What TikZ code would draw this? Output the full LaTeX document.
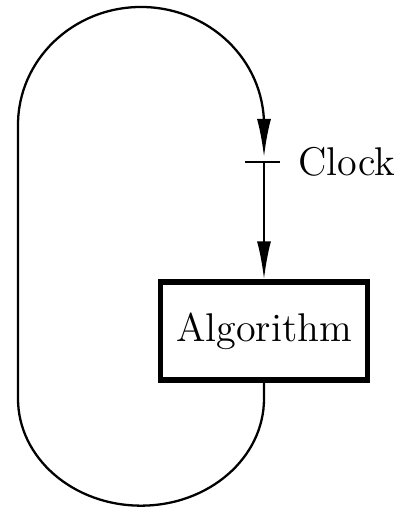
\documentclass[tikz,border=0pt]{standalone}
\usetikzlibrary{positioning,arrows.meta}
\begin{document}
\begin{tikzpicture}[
x=0.01cm, y=0.01cm, algbox/.style={rectangle, draw, line width=1.5pt, minimum width=2.07cm, minimum height=0.98cm, align=center, font=\fontsize{11.4}{13}\selectfont}, flow/.style={line width=0.65pt, -{Latex[length=0.38cm,width=0.14cm]}}, lbl/.style={font=\fontsize{11.4}{13}\selectfont, anchor=west}, tick/.style={line width=0.8pt} ]
\useasboundingbox (0,0) rectangle (397,507);
\node[algbox] (alg) at (264,176) {Algorithm};
\coordinate (tip) at (264,350);
\coordinate (clk) at (264,345);
\node[lbl, right=0.22cm of clk] (clock) {Clock};
\draw[flow] (alg.south) -- ++(0,-16) arc[start angle=0, end angle=-180, x radius=123, y radius=107] -- (18,382) arc[start angle=180, end angle=0, x radius=123, y radius=118] -- (tip);
\draw[tick] ([xshift=-0.19cm]clk) -- ([xshift=0.16cm]clk);
\draw[flow] (clk) -- (alg.north);
\end{tikzpicture}
\end{document}
